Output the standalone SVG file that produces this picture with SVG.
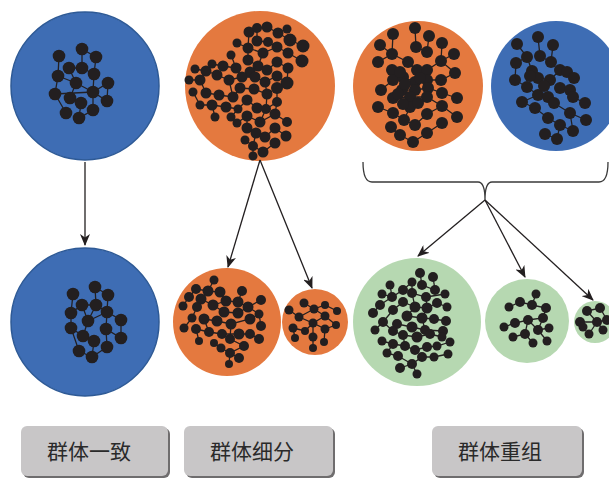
<svg xmlns="http://www.w3.org/2000/svg" width="609" height="478" viewBox="0 0 609 478">
<style>
.n{fill:#231f20}
.e{stroke:#231f20;stroke-width:1.3;fill:none}
.blue{fill:#3e6db4;stroke:#2e5a96;stroke-width:1.5}
.orange{fill:#e4793f}
.green{fill:#b6d8b1}
.arr{stroke:#231f20;stroke-width:1.3;fill:none;marker-end:url(#ah)}
.lbl{fill:#c8c6c7}
.sh{fill:#6f6d6e}
.t{font-family:"Noto Sans CJK SC","Noto Sans CJK TC",sans-serif;font-size:21px;fill:#2a2a2a;text-anchor:middle}
</style>
<defs>
<marker id="ah" viewBox="0 0 12 10" refX="11" refY="5" markerWidth="12" markerHeight="10" markerUnits="userSpaceOnUse" orient="auto">
<path d="M0,0 L12,5 L0,10 L3.5,5 z" fill="#231f20"/>
</marker>
</defs>

<g id="pop-tl">
<circle class="blue" cx="85" cy="86" r="74"/>
<path class="e" d="M59,56 L58,76 L55,94 L66,113 M82,49 L82,68 L94,74 L93,92 L108,83 L107,101 L93,92 L93,110 L79,118 L81,103 L70,98 L76,83 L69,68 L82,68 M96,57 L94,74 M58,76 L76,83 L93,92 M55,94 L93,92 M82,49 L96,57"/>
<g class="n">
<circle cx="59" cy="56" r="6.3"/><circle cx="82" cy="49" r="6.3"/><circle cx="96" cy="57" r="6.3"/><circle cx="69" cy="68" r="6.3"/><circle cx="82" cy="68" r="6.3"/><circle cx="58" cy="76" r="6.3"/><circle cx="94" cy="74" r="6.3"/><circle cx="76" cy="83" r="6.3"/><circle cx="108" cy="83" r="6.3"/><circle cx="55" cy="94" r="6.3"/><circle cx="93" cy="92" r="6.3"/><circle cx="70" cy="98" r="6.3"/><circle cx="81" cy="103" r="6.3"/><circle cx="107" cy="101" r="6.3"/><circle cx="66" cy="113" r="6.3"/><circle cx="93" cy="110" r="6.3"/><circle cx="79" cy="118" r="6.3"/>
</g>
</g>

<g id="pop-to">
<circle class="orange" cx="260" cy="86" r="75"/>
<path class="e" d="M249,32 L257,28 L267,27 L278,33 L287,29 M249,32 L248,48 L248,60 L258,66 M257,28 L257,41 L268,42 L277,47 L288,53 L302,61 M278,33 L290,40 L303,46 M237,43 L248,48 L263,53 L277,47 M263,53 L258,66 L267,70 L277,62 L288,68 L287,83 M231,55 L236,68 L242,77 L255,77 L265,82 L277,76 L287,83 M212,64 L223,66 L236,68 M195,69 L206,71 L217,75 L229,80 L242,77 M189,80 L200,80 L206,93 L219,95 L233,97 L240,88 L254,89 L267,94 L277,88 M193,92 L200,105 L212,105 L226,107 L238,109 L247,100 L257,108 L266,109 L277,102 M215,117 L212,105 M231,117 L237,123 L247,116 L260,122 L275,114 L287,122 M247,116 L247,128 L256,133 L265,137 L275,128 L286,136 M245,140 L253,146 L263,152 L275,143 M253,146 L253,156 M256,133 L253,146 M200,80 L206,71 M229,80 L233,97 M265,82 L267,94 L266,109 L260,122 M277,88 L277,102 L275,114 M250,72 L255,77 M212,64 L206,71 M238,109 L231,117"/>
<g class="n">
<circle cx="249" cy="32" r="5.5"/><circle cx="257" cy="28" r="5"/><circle cx="267" cy="27" r="5.5"/><circle cx="278" cy="33" r="5.5"/><circle cx="287" cy="29" r="4.5"/>
<circle cx="237" cy="43" r="4.5"/><circle cx="257" cy="41" r="5.5"/><circle cx="268" cy="42" r="5"/><circle cx="290" cy="40" r="6.5"/><circle cx="303" cy="46" r="6.5"/>
<circle cx="248" cy="48" r="5.5"/><circle cx="263" cy="53" r="5.5"/><circle cx="277" cy="47" r="5.5"/><circle cx="288" cy="53" r="5.5"/><circle cx="231" cy="55" r="4.5"/>
<circle cx="248" cy="60" r="5.5"/><circle cx="258" cy="66" r="5.5"/><circle cx="267" cy="70" r="5.5"/><circle cx="277" cy="62" r="5.5"/><circle cx="302" cy="61" r="6.5"/><circle cx="288" cy="68" r="5.5"/>
<circle cx="212" cy="64" r="4.5"/><circle cx="223" cy="66" r="5.5"/><circle cx="236" cy="68" r="5.5"/><circle cx="195" cy="69" r="4.5"/><circle cx="206" cy="71" r="5.5"/><circle cx="250" cy="72" r="5.5"/>
<circle cx="189" cy="80" r="4.5"/><circle cx="200" cy="80" r="5.5"/><circle cx="217" cy="75" r="5.5"/><circle cx="229" cy="80" r="5.5"/><circle cx="242" cy="77" r="5.5"/><circle cx="255" cy="77" r="5.5"/><circle cx="265" cy="82" r="5.5"/><circle cx="277" cy="76" r="5.5"/><circle cx="287" cy="83" r="6.5"/>
<circle cx="193" cy="92" r="4.5"/><circle cx="206" cy="93" r="5.5"/><circle cx="219" cy="95" r="5.5"/><circle cx="233" cy="97" r="5.5"/><circle cx="240" cy="88" r="5.5"/><circle cx="254" cy="89" r="5.5"/><circle cx="267" cy="94" r="5.5"/><circle cx="277" cy="88" r="6"/>
<circle cx="200" cy="105" r="4.5"/><circle cx="212" cy="105" r="5.5"/><circle cx="226" cy="107" r="5.5"/><circle cx="238" cy="109" r="4.5"/><circle cx="247" cy="100" r="5.5"/><circle cx="257" cy="108" r="5.5"/><circle cx="266" cy="109" r="5"/><circle cx="277" cy="102" r="5"/>
<circle cx="215" cy="117" r="4.5"/><circle cx="231" cy="117" r="4.5"/><circle cx="237" cy="123" r="4.5"/><circle cx="247" cy="116" r="5.5"/><circle cx="260" cy="122" r="5.5"/><circle cx="275" cy="114" r="5.5"/><circle cx="287" cy="122" r="5"/>
<circle cx="247" cy="128" r="5.5"/><circle cx="256" cy="133" r="5.5"/><circle cx="265" cy="137" r="5.5"/><circle cx="275" cy="128" r="5.5"/><circle cx="286" cy="136" r="5.5"/>
<circle cx="245" cy="140" r="4.5"/><circle cx="253" cy="146" r="5"/><circle cx="263" cy="152" r="5.5"/><circle cx="275" cy="143" r="5.5"/><circle cx="253" cy="156" r="4.5"/>
</g>
</g>

<g id="pop-tr1">
<circle class="orange" cx="418" cy="86" r="65"/>
<path class="e" d="M415,28 L416,47 L427,52 L429,36 M393,34 L392,54 L378,62 M380,45 L392,54 L408,62 L417,70 L427,70 L441,61 L454,54 M442,43 L441,61 L455,73 M392,70 L393,80 L381,90 M392,70 L403,77 L415,82 L427,80 L441,80 L455,73 M402,90 L415,90 L428,88 L442,93 L457,98 M393,98 L410,97 L427,97 L442,106 L457,117 M378,107 L393,113 L404,120 L415,125 L427,114 L442,106 M442,123 L427,133 L413,142 L400,135 L391,127 M410,107 L404,120"/>
<g class="n">
<circle cx="415" cy="28" r="6"/><circle cx="393" cy="34" r="6"/><circle cx="429" cy="36" r="6"/><circle cx="380" cy="45" r="6"/><circle cx="416" cy="47" r="6"/><circle cx="442" cy="43" r="6"/><circle cx="392" cy="54" r="6"/><circle cx="427" cy="52" r="6"/><circle cx="454" cy="54" r="6"/><circle cx="378" cy="62" r="6"/><circle cx="408" cy="62" r="6"/><circle cx="441" cy="61" r="6"/><circle cx="392" cy="70" r="6"/><circle cx="417" cy="70" r="6"/><circle cx="427" cy="70" r="6"/><circle cx="455" cy="73" r="6"/><circle cx="393" cy="80" r="6"/><circle cx="403" cy="77" r="6"/><circle cx="415" cy="82" r="6"/><circle cx="427" cy="80" r="6"/><circle cx="441" cy="80" r="6"/><circle cx="381" cy="90" r="6"/><circle cx="402" cy="90" r="6"/><circle cx="415" cy="90" r="6"/><circle cx="428" cy="88" r="6"/><circle cx="442" cy="93" r="6"/><circle cx="457" cy="98" r="6"/><circle cx="393" cy="98" r="6"/><circle cx="410" cy="97" r="6"/><circle cx="427" cy="97" r="6"/><circle cx="378" cy="107" r="6"/><circle cx="410" cy="107" r="6"/><circle cx="442" cy="106" r="6"/><circle cx="393" cy="113" r="6"/><circle cx="427" cy="114" r="6"/><circle cx="404" cy="120" r="6"/><circle cx="415" cy="125" r="6"/><circle cx="442" cy="123" r="6"/><circle cx="457" cy="117" r="6"/><circle cx="391" cy="127" r="6"/><circle cx="400" cy="135" r="6"/><circle cx="427" cy="133" r="6"/><circle cx="413" cy="142" r="6"/>
<circle cx="400" cy="72" r="6"/><circle cx="420" cy="78" r="6"/><circle cx="405" cy="84" r="6"/><circle cx="398" cy="94" r="6"/><circle cx="418" cy="103" r="6"/><circle cx="403" cy="104" r="6"/>
</g>
</g>

<g id="pop-tr2">
<circle class="blue" cx="556" cy="86" r="65" style="stroke:none"/>
<path class="e" d="M538,37 L540,56 L551,62 L553,45 M517,44 L527,57 L516,63 L515,80 L527,87 L538,95 L548,97 L554,103 L570,113 L586,120 M532,71 L538,78 L550,80 L560,70 L567,72 L574,78 M527,57 L532,71 M560,88 L570,90 L573,97 L585,103 M522,102 L535,108 L548,118 L560,125 L573,131 M545,134 L557,139 L560,125 M570,113 L573,131 M538,95 L522,102"/>
<g class="n">
<circle cx="538" cy="37" r="6"/><circle cx="517" cy="44" r="6"/><circle cx="553" cy="45" r="6"/><circle cx="527" cy="57" r="6"/><circle cx="540" cy="56" r="6"/><circle cx="516" cy="63" r="6"/><circle cx="551" cy="62" r="6"/><circle cx="532" cy="71" r="6"/><circle cx="560" cy="70" r="6"/><circle cx="567" cy="72" r="6"/><circle cx="515" cy="80" r="6"/><circle cx="538" cy="78" r="6"/><circle cx="550" cy="80" r="6"/><circle cx="574" cy="78" r="6"/><circle cx="527" cy="87" r="6"/><circle cx="538" cy="95" r="6"/><circle cx="560" cy="88" r="6"/><circle cx="570" cy="90" r="6"/><circle cx="522" cy="102" r="6"/><circle cx="548" cy="97" r="6"/><circle cx="554" cy="103" r="6"/><circle cx="573" cy="97" r="6"/><circle cx="535" cy="108" r="6"/><circle cx="585" cy="103" r="6"/><circle cx="570" cy="113" r="6"/><circle cx="548" cy="118" r="6"/><circle cx="586" cy="120" r="6"/><circle cx="560" cy="125" r="6"/><circle cx="573" cy="131" r="6"/><circle cx="545" cy="134" r="6"/><circle cx="557" cy="139" r="6"/>
<circle cx="544" cy="86" r="6"/><circle cx="530" cy="76" r="6"/>
</g>
</g>

<g id="pop-bl">
<circle class="blue" cx="85" cy="322" r="74"/>
<path class="e" d="M73,294 L71,313 L71,328 L79,351 L92,357 L107,347 L106,329 L121,338 L121,320 L107,312 L106,329 M95,287 L96,305 L107,312 L108,295 M95,287 L108,295 M82,305 L88,321 L83,336 L94,341 L92,357 M71,313 L82,305 L96,305 L88,321 M71,328 L83,336 M88,321 L107,312"/>
<g class="n">
<circle cx="73" cy="294" r="6.3"/><circle cx="95" cy="287" r="6.3"/><circle cx="108" cy="295" r="6.3"/><circle cx="82" cy="305" r="6.3"/><circle cx="96" cy="305" r="6.3"/><circle cx="71" cy="313" r="6.3"/><circle cx="88" cy="321" r="6.3"/><circle cx="107" cy="312" r="6.3"/><circle cx="121" cy="320" r="6.3"/><circle cx="71" cy="328" r="6.3"/><circle cx="106" cy="329" r="6.3"/><circle cx="83" cy="336" r="6.3"/><circle cx="94" cy="341" r="6.3"/><circle cx="121" cy="338" r="6.3"/><circle cx="79" cy="351" r="6.3"/><circle cx="92" cy="357" r="6.3"/><circle cx="107" cy="347" r="6.3"/>
</g>
</g>

<g id="pop-bo1">
<circle class="orange" cx="227" cy="322" r="54"/>
<path class="e" d="M214,280 L208,291 L196,289 L189,297 L183,306 M208,291 L220,292 L226,301 L238,302 L242,291 M201,299 L213,305 L226,301 M238,302 L248,307 L261,300 M197,307 L192,318 L184,328 M213,305 L224,312 L238,313 L248,307 L259,314 L261,326 M204,319 L217,321 L231,324 L250,319 L259,314 M196,329 L209,332 L222,334 L239,334 L250,334 L259,339 M199,341 L196,329 M214,343 L221,348 L230,353 L239,358 M230,339 L244,346 L230,353 L229,364 M204,319 L209,332 M231,324 L230,339"/>
<g class="n">
<circle cx="214" cy="280" r="4.5"/><circle cx="196" cy="289" r="5"/><circle cx="208" cy="291" r="5.5"/><circle cx="220" cy="292" r="5.5"/><circle cx="242" cy="291" r="5"/><circle cx="189" cy="297" r="5"/><circle cx="201" cy="299" r="5.5"/><circle cx="213" cy="305" r="5.5"/><circle cx="226" cy="301" r="5.5"/><circle cx="238" cy="302" r="5.5"/><circle cx="261" cy="300" r="5"/><circle cx="183" cy="306" r="4.5"/><circle cx="197" cy="307" r="5"/><circle cx="224" cy="312" r="5.5"/><circle cx="238" cy="313" r="5.5"/><circle cx="248" cy="307" r="5.5"/><circle cx="259" cy="314" r="4.5"/><circle cx="192" cy="318" r="4.5"/><circle cx="204" cy="319" r="5.5"/><circle cx="217" cy="321" r="5.5"/><circle cx="231" cy="324" r="5.5"/><circle cx="250" cy="319" r="5.5"/><circle cx="261" cy="326" r="5"/><circle cx="184" cy="328" r="4.5"/><circle cx="196" cy="329" r="5"/><circle cx="209" cy="332" r="5"/><circle cx="222" cy="334" r="5"/><circle cx="239" cy="334" r="5.5"/><circle cx="250" cy="334" r="5"/><circle cx="259" cy="339" r="5"/><circle cx="199" cy="341" r="4"/><circle cx="214" cy="343" r="4"/><circle cx="230" cy="339" r="5"/><circle cx="221" cy="348" r="4.5"/><circle cx="244" cy="346" r="5"/><circle cx="230" cy="353" r="5"/><circle cx="239" cy="358" r="5"/><circle cx="229" cy="364" r="4"/>
</g>
</g>

<g id="pop-bo2">
<circle class="orange" cx="315" cy="322" r="33"/>
<path class="e" d="M289,310 L299,317 L314,309 L325,305 L337,311 M304,303 L314,309 L325,316 L336,325 M299,317 L313,323 L325,316 M313,323 L325,329 L324,342 M293,328 L305,331 L313,323 L313,337 L313,348 M293,328 L295,338 M325,329 L336,325"/>
<g class="n">
<circle cx="289" cy="310" r="4.5"/><circle cx="304" cy="303" r="4.5"/><circle cx="325" cy="305" r="4"/><circle cx="337" cy="311" r="4"/><circle cx="314" cy="309" r="4.5"/><circle cx="299" cy="317" r="4.5"/><circle cx="325" cy="316" r="4.5"/><circle cx="313" cy="323" r="4.5"/><circle cx="293" cy="328" r="4.5"/><circle cx="305" cy="331" r="4"/><circle cx="325" cy="329" r="4.5"/><circle cx="336" cy="325" r="4"/><circle cx="295" cy="338" r="4"/><circle cx="313" cy="337" r="4.5"/><circle cx="324" cy="342" r="4"/><circle cx="313" cy="348" r="4"/>
</g>
</g>

<g id="pop-bg1">
<circle class="green" cx="417" cy="322" r="64"/>
<path class="e" d="M420,273 L422,285 L435,290 L433,277 M412,282 L403,290 L392,297 L382,294 M390,285 L392,297 L380,305 L373,313 M412,293 L426,297 L445,294 M403,302 L393,310 L383,322 L375,330 M415,307 L427,308 L437,303 L447,307 M407,316 L422,318 L434,319 L446,321 M397,324 L412,327 L425,330 L443,331 M393,331 L403,335 L417,337 L430,334 L442,337 M382,341 L393,344 L405,346 L415,350 L427,347 L437,346 L450,342 M387,353 L398,356 L412,364 L422,357 L434,357 L448,354 M400,368 L412,364 L417,374 M403,302 L415,307 M412,282 L412,293 L415,307 L407,316 M426,297 L427,308 L422,318 M383,322 L393,331 M422,318 L425,330 L430,334 M403,335 L405,346 M393,344 L387,353"/>
<g class="n">
<circle cx="420" cy="273" r="5"/><circle cx="433" cy="277" r="5"/><circle cx="412" cy="282" r="4.5"/><circle cx="422" cy="285" r="5"/><circle cx="390" cy="285" r="4.5"/><circle cx="403" cy="290" r="5"/><circle cx="435" cy="290" r="5"/><circle cx="382" cy="294" r="4.5"/><circle cx="392" cy="297" r="5"/><circle cx="412" cy="293" r="5"/><circle cx="426" cy="297" r="5"/><circle cx="445" cy="294" r="4.5"/><circle cx="403" cy="302" r="5"/><circle cx="437" cy="303" r="5"/><circle cx="380" cy="305" r="5"/><circle cx="393" cy="310" r="5"/><circle cx="415" cy="307" r="5.5"/><circle cx="427" cy="308" r="5.5"/><circle cx="447" cy="307" r="4.5"/><circle cx="373" cy="313" r="5"/><circle cx="407" cy="316" r="5.5"/><circle cx="422" cy="318" r="5.5"/><circle cx="434" cy="319" r="5"/><circle cx="446" cy="321" r="5"/><circle cx="383" cy="322" r="5"/><circle cx="397" cy="324" r="5"/><circle cx="412" cy="327" r="5.5"/><circle cx="425" cy="330" r="5"/><circle cx="443" cy="331" r="5"/><circle cx="375" cy="330" r="4.5"/><circle cx="393" cy="331" r="5"/><circle cx="403" cy="335" r="5"/><circle cx="417" cy="337" r="5.5"/><circle cx="430" cy="334" r="5"/><circle cx="442" cy="337" r="4.5"/><circle cx="382" cy="341" r="4.5"/><circle cx="393" cy="344" r="5"/><circle cx="405" cy="346" r="5"/><circle cx="415" cy="350" r="5"/><circle cx="427" cy="347" r="5"/><circle cx="437" cy="346" r="4.5"/><circle cx="450" cy="342" r="4.5"/><circle cx="387" cy="353" r="4.5"/><circle cx="398" cy="356" r="5"/><circle cx="422" cy="357" r="5"/><circle cx="434" cy="357" r="4.5"/><circle cx="448" cy="354" r="4.5"/><circle cx="412" cy="364" r="5"/><circle cx="400" cy="368" r="5"/><circle cx="417" cy="374" r="4.5"/>
</g>
</g>

<g id="pop-bg2">
<circle class="green" cx="527" cy="321" r="42"/>
<path class="e" d="M536,294 L532,305 L520,302 L509,307 M532,305 L546,308 L543,318 L528,320 L515,323 L504,327 M528,320 L538,330 L549,328 M538,330 L547,341 M528,320 L525,334 L513,337 M525,334 L533,343 M543,318 L538,330"/>
<g class="n">
<circle cx="536" cy="294" r="4.5"/><circle cx="520" cy="302" r="5"/><circle cx="509" cy="307" r="4.5"/><circle cx="532" cy="305" r="5"/><circle cx="546" cy="308" r="5"/><circle cx="543" cy="318" r="5"/><circle cx="528" cy="320" r="5"/><circle cx="515" cy="323" r="5"/><circle cx="504" cy="327" r="4.5"/><circle cx="538" cy="330" r="5"/><circle cx="549" cy="328" r="4.5"/><circle cx="525" cy="334" r="5"/><circle cx="513" cy="337" r="4.5"/><circle cx="547" cy="341" r="4.5"/><circle cx="533" cy="343" r="4.5"/>
</g>
</g>

<g id="pop-bg3">
<circle class="green" cx="595" cy="322" r="21"/>
<path class="e" d="M587,311 L600,308 L607,320 L597,322 L580,322 L583,327 M587,311 L597,322 L603,330 M597,322 L589,334"/>
<g class="n">
<circle cx="587" cy="311" r="5"/><circle cx="600" cy="308" r="5"/><circle cx="580" cy="322" r="5"/><circle cx="597" cy="322" r="5"/><circle cx="607" cy="320" r="5"/><circle cx="583" cy="327" r="4.5"/><circle cx="603" cy="330" r="4.5"/><circle cx="589" cy="334" r="4.5"/>
</g>
</g>

<g id="connectors">
<path class="arr" d="M85,162 L85,245"/>
<path class="arr" d="M260,160 L228,267"/>
<path class="arr" d="M260,160 L312,288"/>
<path d="M363,162 Q363,182 372,182 L478,182 Q485,182 485,200 Q485,182 492,182 L599,182 Q608,182 608,162" fill="none" stroke="#3a3a3a" stroke-width="1.3"/>
<path class="arr" d="M485,200 L418,256"/>
<path class="arr" d="M485,200 L525,277"/>
<path class="arr" d="M485,200 L593,300"/>
</g>

<g id="label-1">
<rect class="sh" x="23" y="428" width="147" height="50" rx="6"/>
<rect class="lbl" x="21" y="426" width="147" height="50" rx="6"/>
<text class="t" x="89" y="459">群体一致</text>
</g>
<g id="label-2">
<rect class="sh" x="186" y="428" width="149" height="50" rx="6"/>
<rect class="lbl" x="184" y="426" width="149" height="50" rx="6"/>
<text class="t" x="252" y="459">群体细分</text>
</g>
<g id="label-3">
<rect class="sh" x="434" y="428" width="150" height="50" rx="6"/>
<rect class="lbl" x="432" y="426" width="150" height="50" rx="6"/>
<text class="t" x="500" y="459">群体重组</text>
</g>
</svg>
